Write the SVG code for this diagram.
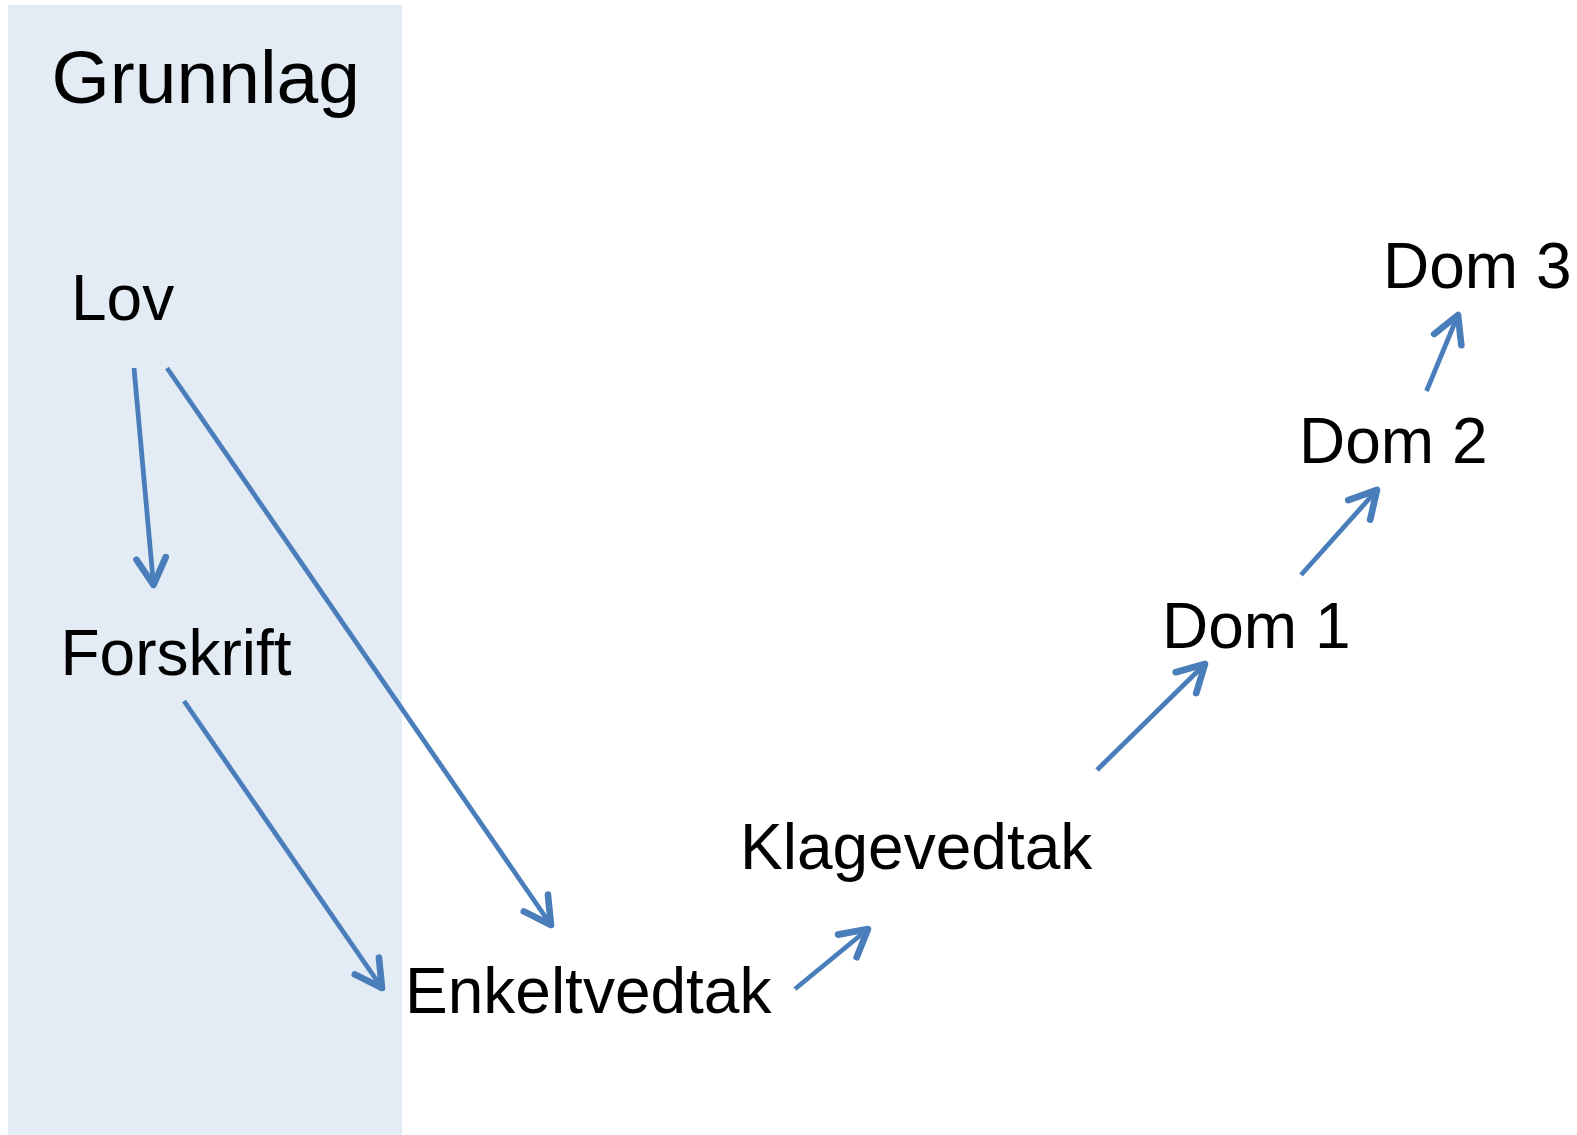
<svg xmlns="http://www.w3.org/2000/svg" width="1577" height="1135" viewBox="0 0 1577 1135">
<style>
.lbl{font-family:"Liberation Sans",Arial,sans-serif;font-size:64px;fill:#000}
.title{font-family:"Liberation Sans",Arial,sans-serif;font-size:75px;fill:#000}
.arr{fill:none;stroke:#4A7EBB;stroke-width:4.8;marker-end:url(#ah)}
</style>
<defs>
<marker id="ah" markerUnits="userSpaceOnUse" markerWidth="40" markerHeight="40" viewBox="-25 -15 30 30" refX="0" refY="0" orient="auto" overflow="visible">
<path d="M-20,-11 L0,0 L-20,11" fill="none" stroke="#4A7EBB" stroke-width="5" stroke-linecap="round" stroke-linejoin="round"/>
</marker>
</defs>
<rect id="grunnlag-bg" x="8" y="5" width="394" height="1130" fill="#E3EBF5"/>
<g id="grunnlag"><text class="title" x="51.5" y="103">Grunnlag</text></g>
<g id="lov"><text class="lbl" x="71" y="320">Lov</text></g>
<g id="forskrift"><text class="lbl" x="60.5" y="675">Forskrift</text></g>
<g id="enkeltvedtak"><text class="lbl" x="405" y="1013">Enkeltvedtak</text></g>
<g id="klagevedtak"><text class="lbl" x="740" y="869">Klagevedtak</text></g>
<g id="dom1"><text class="lbl" x="1162" y="648">Dom 1</text></g>
<g id="dom2"><text class="lbl" x="1299" y="463">Dom 2</text></g>
<g id="dom3"><text class="lbl" x="1383" y="288">Dom 3</text></g>
<g id="connectors">
<path class="arr" d="M134,368 L153.5,585"/>
<path class="arr" d="M167,368 L551,925"/>
<path class="arr" d="M184,701 L382,988"/>
<path class="arr" d="M795,989 L868,929"/>
<path class="arr" d="M1097,770 L1205,664"/>
<path class="arr" d="M1301,575 L1377,490"/>
<path class="arr" d="M1426.5,391 L1458,315"/>
</g>
</svg>
